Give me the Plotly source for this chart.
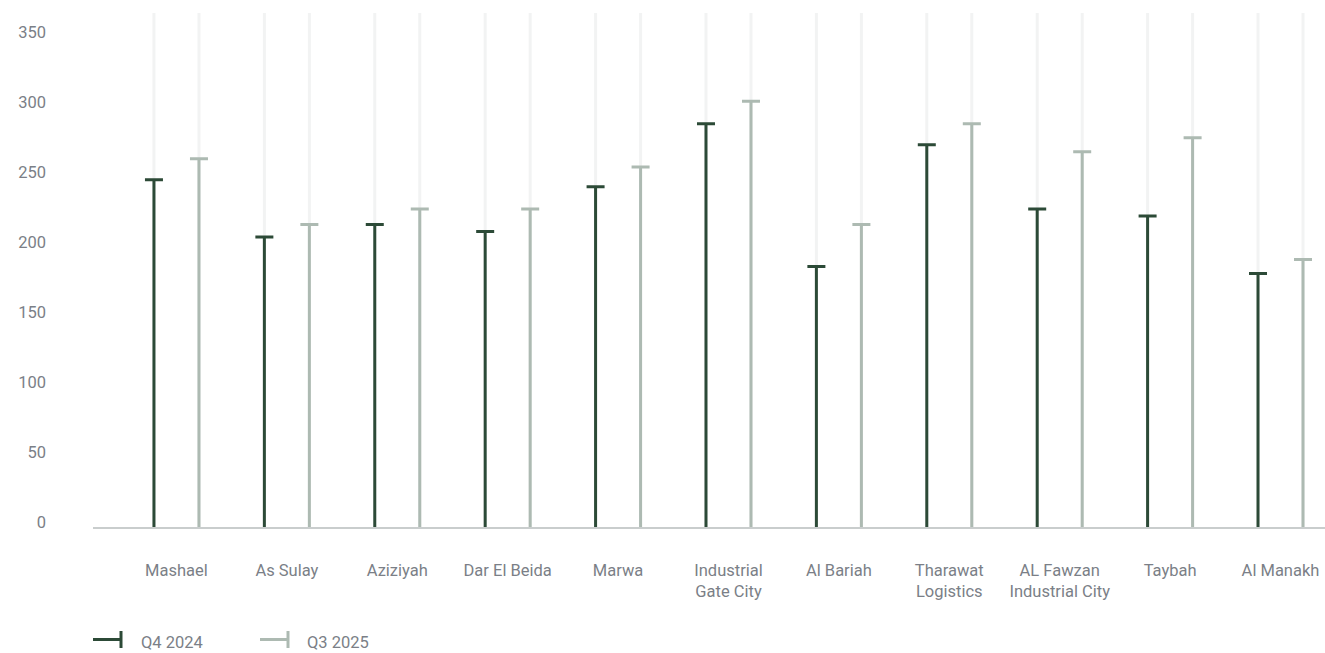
import plotly.graph_objects as go

# ---- data ----
categories = ["Mashael", "As Sulay", "Aziziyah", "Dar El Beida", "Marwa",
              "Industrial<br>Gate City", "Al Bariah", "Tharawat<br>Logistics",
              "AL Fawzan<br>Industrial City", "Taybah", "Al Manakh"]
q4_2024 = [248, 207, 216, 211, 243, 288, 186, 273, 227, 222, 181]
q3_2025 = [263, 216, 227, 227, 257, 304, 216, 288, 268, 278, 191]
series_names = ["Q4 2024", "Q3 2025"]
y_tick_values = [0, 50, 100, 150, 200, 250, 300, 350]

# ---- styling / layout constants ----
W, H = 1325, 653
ML, MR, MT, MB = 93, 0, 13, 126
Y_MAX = 367
DARK = "#2c4a37"
LIGHT = "#adbab2"
TRACK = "#f2f3f3"
TEXT = "#7b7f87"
FONT = "Roboto"

CAT_PX = 110.4                     # pixel width of one category band
STEM_W = 3 / CAT_PX                # stem width in category units
OFFS = 22.5 / CAT_PX               # centre offset of each series

fig = go.Figure()
series = [(series_names[0], q4_2024, DARK, -OFFS), (series_names[1], q3_2025, LIGHT, OFFS)]

# background tracks
for name, vals, col, off in series:
    fig.add_trace(go.Bar(
        x=categories, y=[Y_MAX] * len(categories), width=STEM_W, offset=off - STEM_W / 2,
        marker=dict(color=TRACK, line=dict(width=0)), showlegend=False, hoverinfo="skip"))

# stems with caps
for name, vals, col, off in series:
    fig.add_trace(go.Bar(
        x=categories, y=vals, name=name, width=STEM_W, offset=off - STEM_W / 2,
        marker=dict(color=col, line=dict(width=0)),
        error_y=dict(type="data", array=[0] * len(vals), arrayminus=[0] * len(vals),
                     width=9, thickness=3, color=col),
        showlegend=False))

# custom legend (line with end cap + label)
plot_w = W - ML - MR
plot_h = H - MT - MB
def px(xp):
    return (xp - ML) / plot_w
def py(yp):
    return (H - MB - yp) / plot_h

legend_items = [(series_names[0], DARK, 93, 139), (series_names[1], LIGHT, 260, 305)]
for name, col, x0, tx in legend_items:
    fig.add_shape(type="line", xref="paper", yref="paper", x0=px(x0), x1=px(x0 + 29),
                  y0=py(639.5), y1=py(639.5), line=dict(color=col, width=3))
    fig.add_shape(type="line", xref="paper", yref="paper", x0=px(x0 + 28), x1=px(x0 + 28),
                  y0=py(631), y1=py(648), line=dict(color=col, width=3))
    fig.add_annotation(text=name, xref="paper", yref="paper", x=px(tx), y=py(642),
                       xanchor="left", yanchor="middle", showarrow=False,
                       font=dict(family=FONT, size=16.5, color=TEXT))

fig.update_layout(
    width=W, height=H,
    margin=dict(l=ML, r=MR, t=MT, b=MB, pad=0),
    barmode="overlay",
    paper_bgcolor="white", plot_bgcolor="white",
    showlegend=False,
    font=dict(family=FONT, size=16, color=TEXT),
)
fig.update_xaxes(
    type="category", range=[-0.756, 10.403],
    showline=True, linecolor="#c9cdcd", linewidth=2,
    showgrid=False, zeroline=False, ticks="",
    tickfont=dict(family=FONT, size=16.5, color=TEXT),
    ticklabelstandoff=27,
)
fig.update_yaxes(
    range=[0, Y_MAX], tickvals=y_tick_values,
    showline=False, showgrid=False, zeroline=False, ticks="",
    tickfont=dict(family=FONT, size=16.5, color=TEXT),
    ticklabelstandoff=46, ticklabelshift=-5,
)

fig.write_html("out.html")
